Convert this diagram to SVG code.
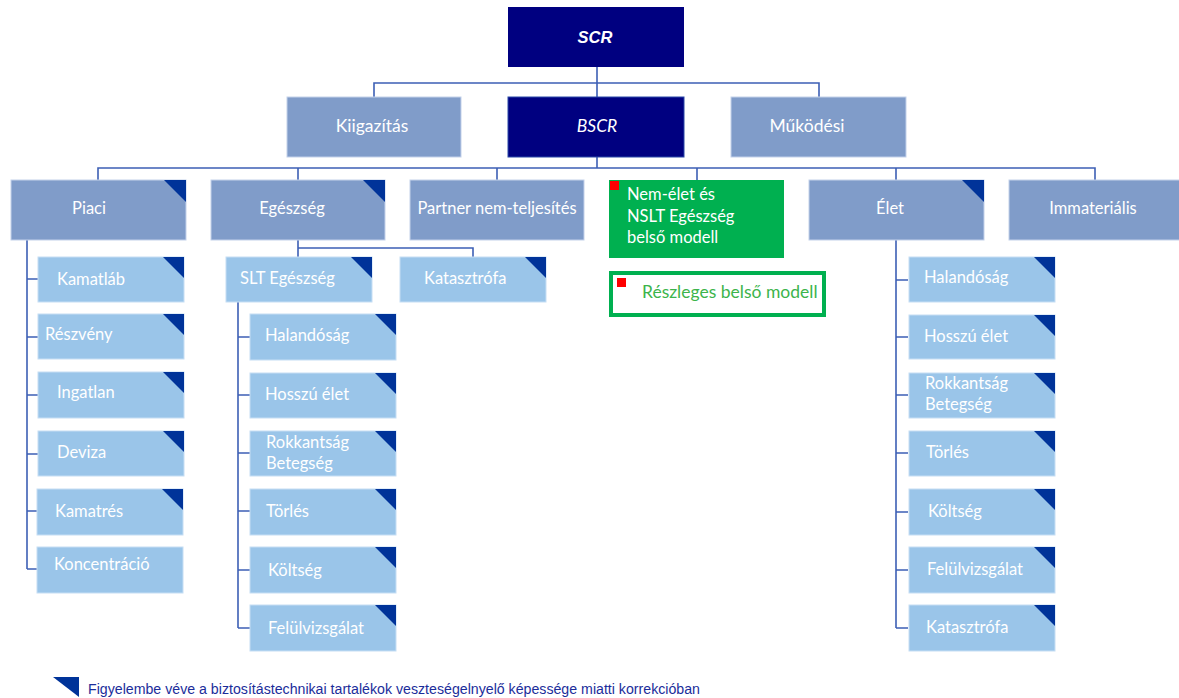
<svg xmlns="http://www.w3.org/2000/svg" width="1179" height="698" viewBox="0 0 1179 698">
<style>
.dk{fill:#000080}
.g1{fill:#809cc9;stroke:#c3d1ea;stroke-width:1}
.lb{fill:#9ac5e9;stroke:#c6def4;stroke-width:1}
.tri{fill:#003399}
.con{stroke:#3d5fb5;stroke-width:1.6;fill:none}
.t{font-family:Lato,"Noto Sans",sans-serif;font-size:16.5px;fill:#ffffff}
.c{text-anchor:middle}
.big{font-size:17.5px}
</style>
<rect width="1179" height="698" fill="#ffffff"/>
<g id="connectors" class="con">
<path d="M597 67V97M374 97V83H819V97"/>
<path d="M597 157V168M98 180V168H1095V180M298 168V180M497 168V180M697 168V180M896 168V180"/>
<path d="M27 240V569M27 279H38M27 337H38M27 395H38M27 454H38M27 511H38M27 569H38"/>
<path d="M298 240V248H473V257M298 248V257"/>
<path d="M238 302V628M238 337H250M238 395H250M238 453H250M238 511H250M238 570H250M238 628H250"/>
<path d="M896 240V628M896 280H908M896 337H908M896 395H908M896 453H908M896 512H908M896 570H908M896 628H908"/>
</g>
<g id="scr"><rect class="dk" x="508" y="7" width="176" height="60"/><text x="595" y="43" class="c" style="font-family:'Liberation Sans',Arial,sans-serif;font-weight:bold;font-style:italic;font-size:16.5px;fill:#fff">SCR</text></g>
<g id="kiigazitas"><rect class="g1" x="287" y="97" width="174" height="60"/><text class="t c big" x="372" y="132">Kiigazítás</text></g>
<g id="bscr"><rect class="dk" x="508" y="97" width="176" height="60" style="stroke:#2a48a8;stroke-width:1"/><text class="t c big" x="597" y="132" style="font-style:italic">BSCR</text></g>
<g id="mukodesi"><rect class="g1" x="731" y="97" width="175" height="60"/><text class="t c big" x="807" y="132">Működési</text></g>

<g id="piaci"><rect class="g1" x="11" y="180" width="175" height="60"/><polygon class="tri" points="164,180 186,180 186,202"/><text class="t c" x="89" y="214">Piaci</text></g>
<g id="egeszseg"><rect class="g1" x="211" y="180" width="174" height="60"/><polygon class="tri" points="363,180 385,180 385,202"/><text class="t c" x="292" y="214">Egészség</text></g>
<g id="partner"><rect class="g1" x="410" y="180" width="174" height="60"/><text class="t c" x="497" y="214">Partner nem-teljesítés</text></g>
<g id="nemelet"><rect x="609" y="180" width="175" height="78" fill="#00b050"/><rect x="610" y="181" width="9" height="9" fill="#ff0000"/><text class="t" x="627" y="200">Nem-élet és</text><text class="t" x="627" y="222">NSLT Egészség</text><text class="t" x="627" y="243">belső modell</text></g>
<g id="elet"><rect class="g1" x="809" y="180" width="175" height="60"/><polygon class="tri" points="962,180 984,180 984,202"/><text class="t c" x="890" y="214">Élet</text></g>
<g id="immaterialis"><rect class="g1" x="1009" y="180" width="172" height="60"/><text class="t c" x="1093" y="214">Immateriális</text></g>

<g id="reszleges"><rect x="611" y="273" width="213" height="42" fill="#ffffff" stroke="#00b050" stroke-width="4"/><rect x="617" y="278" width="9" height="9" fill="#ff0000"/><text class="t" x="642" y="298" style="fill:#3cb44b;font-size:17.5px">Részleges belső modell</text></g>

<g id="kamatlab"><rect class="lb" x="38" y="257" width="146" height="45"/><polygon class="tri" points="163,257 184,257 184,278"/><text class="t" x="57" y="285">Kamatláb</text></g>
<g id="reszveny"><rect class="lb" x="38" y="314" width="146" height="45"/><polygon class="tri" points="163,314 184,314 184,335"/><text class="t" x="45" y="340">Részvény</text></g>
<g id="ingatlan"><rect class="lb" x="38" y="372" width="146" height="46"/><polygon class="tri" points="163,372 184,372 184,393"/><text class="t" x="57" y="398">Ingatlan</text></g>
<g id="deviza"><rect class="lb" x="38" y="431" width="146" height="45"/><polygon class="tri" points="163,431 184,431 184,452"/><text class="t" x="57" y="458">Deviza</text></g>
<g id="kamatres"><rect class="lb" x="37" y="489" width="146" height="46"/><polygon class="tri" points="162,489 183,489 183,510"/><text class="t" x="55" y="517">Kamatrés</text></g>
<g id="koncentracio"><rect class="lb" x="37" y="547" width="146" height="46"/><text class="t" x="54" y="570">Koncentráció</text></g>

<g id="sltegeszseg"><rect class="lb" x="226" y="257" width="146" height="45"/><polygon class="tri" points="351,257 372,257 372,278"/><text class="t" x="240" y="284">SLT Egészség</text></g>
<g id="katasztrofa1"><rect class="lb" x="400" y="257" width="146" height="45"/><polygon class="tri" points="525,257 546,257 546,278"/><text class="t" x="424" y="284">Katasztrófa</text></g>

<g id="halandosag1"><rect class="lb" x="250" y="314" width="146" height="46"/><polygon class="tri" points="375,314 396,314 396,335"/><text class="t" x="265" y="341">Halandóság</text></g>
<g id="hosszuelet1"><rect class="lb" x="250" y="373" width="146" height="45"/><polygon class="tri" points="375,373 396,373 396,394"/><text class="t" x="265" y="400">Hosszú élet</text></g>
<g id="rokkantsag1"><rect class="lb" x="250" y="431" width="146" height="45"/><polygon class="tri" points="375,431 396,431 396,452"/><text class="t" x="266" y="448">Rokkantság</text><text class="t" x="266" y="469">Betegség</text></g>
<g id="torles1"><rect class="lb" x="250" y="489" width="146" height="46"/><polygon class="tri" points="375,489 396,489 396,510"/><text class="t" x="266" y="517">Törlés</text></g>
<g id="koltseg1"><rect class="lb" x="250" y="547" width="146" height="46"/><polygon class="tri" points="375,547 396,547 396,568"/><text class="t" x="268" y="576">Költség</text></g>
<g id="felulvizsgalat1"><rect class="lb" x="250" y="605" width="146" height="46"/><polygon class="tri" points="375,605 396,605 396,626"/><text class="t" x="268" y="634">Felülvizsgálat</text></g>

<g id="halandosag2"><rect class="lb" x="909" y="257" width="146" height="45"/><polygon class="tri" points="1034,257 1055,257 1055,278"/><text class="t" x="924" y="283">Halandóság</text></g>
<g id="hosszuelet2"><rect class="lb" x="909" y="315" width="146" height="44"/><polygon class="tri" points="1034,315 1055,315 1055,336"/><text class="t" x="924" y="342">Hosszú élet</text></g>
<g id="rokkantsag2"><rect class="lb" x="909" y="373" width="146" height="45"/><polygon class="tri" points="1034,373 1055,373 1055,394"/><text class="t" x="925" y="389">Rokkantság</text><text class="t" x="925" y="410">Betegség</text></g>
<g id="torles2"><rect class="lb" x="909" y="431" width="146" height="45"/><polygon class="tri" points="1034,431 1055,431 1055,452"/><text class="t" x="926" y="458">Törlés</text></g>
<g id="koltseg2"><rect class="lb" x="909" y="489" width="146" height="46"/><polygon class="tri" points="1034,489 1055,489 1055,510"/><text class="t" x="928" y="517">Költség</text></g>
<g id="felulvizsgalat2"><rect class="lb" x="909" y="547" width="146" height="46"/><polygon class="tri" points="1034,547 1055,547 1055,568"/><text class="t" x="927" y="575">Felülvizsgálat</text></g>
<g id="katasztrofa2"><rect class="lb" x="909" y="605" width="146" height="46"/><polygon class="tri" points="1034,605 1055,605 1055,626"/><text class="t" x="926" y="633">Katasztrófa</text></g>

<g id="legend"><polygon class="tri" points="53,677 79,677 79,697"/><text x="88" y="694" textLength="612" lengthAdjust="spacingAndGlyphs" style="font-family:'Liberation Sans',Arial,sans-serif;font-size:14px;fill:#1b2d9a">Figyelembe véve a biztosítástechnikai tartalékok veszteségelnyelő képessége miatti korrekcióban</text></g>
</svg>
